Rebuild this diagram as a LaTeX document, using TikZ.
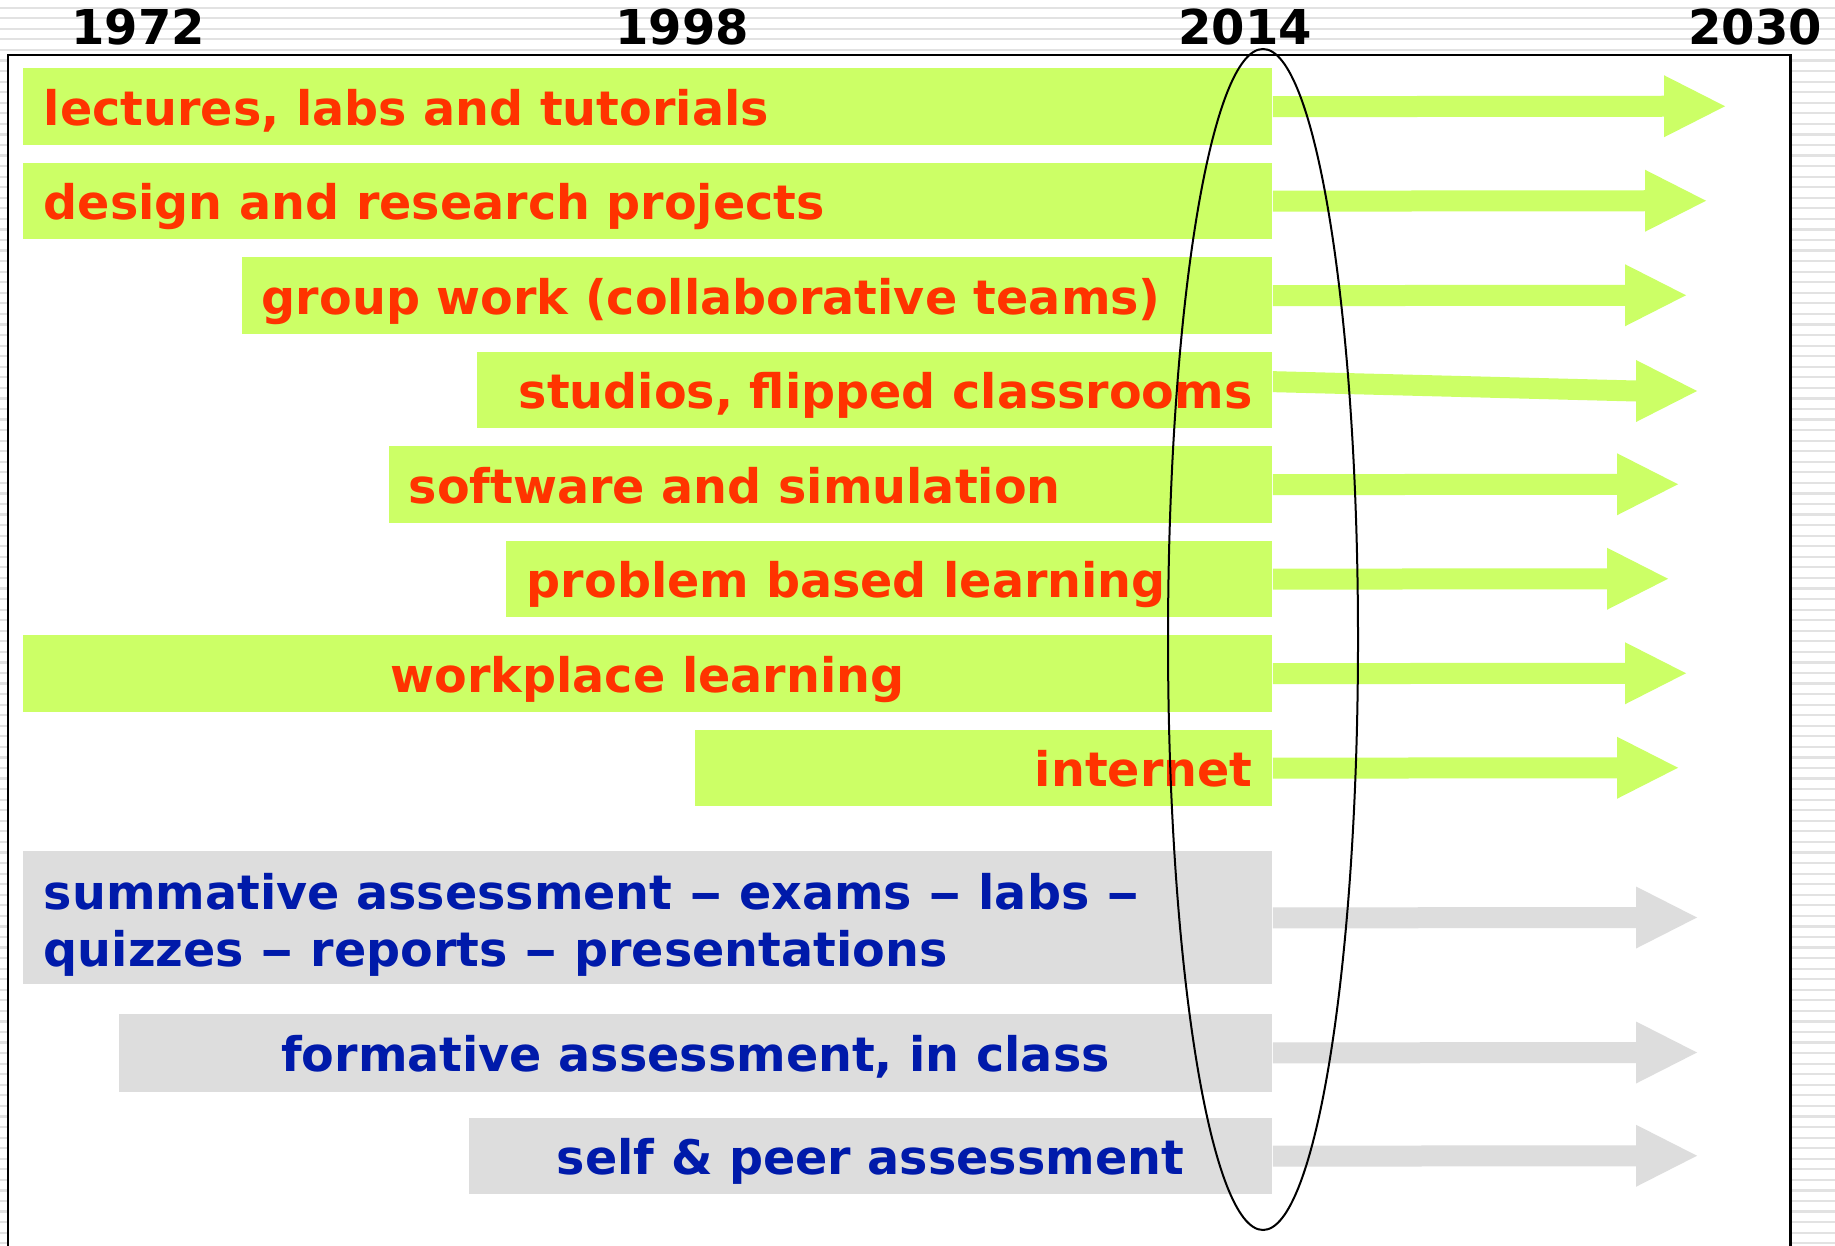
\documentclass[tikz,border=0pt]{standalone}
\usepackage{graphicx}
\usepackage{fontspec}
\setmainfont{DejaVu Sans}
\usetikzlibrary{calc}
\definecolor{barg}{RGB}{204,255,102}
\definecolor{barx}{RGB}{221,221,221}
\definecolor{txr}{RGB}{255,51,0}
\definecolor{txb}{RGB}{0,26,170}
\definecolor{stripe}{RGB}{226,226,226}
\newcommand\wdash{\scalebox{1.4}[1]{–}}
\newcommand\fatarrow[3]{%
  \fill[#1] ($(#2)+(0,-10.5)$) -- ($(#3)+(-61,-10.5)$) -- ($(#3)+(-61,-31)$) -- (#3)
     -- ($(#3)+(-61,31)$) -- ($(#3)+(-61,10.5)$) -- ($(#2)+(0,10.5)$) -- cycle;}
\begin{document}
\begin{tikzpicture}[x=0.5pt,y=-0.5pt,
  gbar/.style={fill=barg, draw=none, inner sep=0pt, anchor=north west, minimum height=38.25pt},
  xbar/.style={fill=barx, draw=none, inner sep=0pt, anchor=north west, minimum height=38.25pt},
  rtxt/.style={inner sep=0pt, text=txr, font=\bfseries\fontsize{23.8}{28.5}\selectfont},
  btxt/.style={inner sep=0pt, text=txb, font=\bfseries\fontsize{23.8}{28.5}\selectfont},
  year/.style={inner sep=0pt, anchor=base, text=black, font=\bfseries\fontsize{24}{28}\selectfont},
  frame/.style={draw=black, line width=1.15pt, fill=white},
  ring/.style={draw=black, line width=1pt}]
\useasboundingbox (0,0) rectangle (1835,1246);
\fill[white] (0,0) rectangle (1835,1246);
\foreach \i in {0,...,117} \draw[stripe, line width=1.1pt] (0,{7.7+10.56*\i}) -- (1835,{7.7+10.56*\i});
\draw[frame] (8,55) rectangle (1790.5,1262);
% years
\node[year] (y1) at (138,44.5) {1972};
\node[year] (y2) at (682,44.5) {1998};
\node[year] (y3) at (1245,44.5) {2014};
\node[year] (y4) at (1755,44.5) {2030};
% bars
\node[gbar, minimum width=624.5pt] (b1) at (23,68) {};
\node[gbar, minimum width=624.5pt] (b2) at (23,162.5) {};
\node[gbar, minimum width=515pt] (b3) at (242,257) {};
\node[gbar, minimum width=397.5pt] (b4) at (477,351.5) {};
\node[gbar, minimum width=441.5pt] (b5) at (389,446) {};
\node[gbar, minimum width=383pt] (b6) at (506,540.5) {};
\node[gbar, minimum width=624.5pt] (b7) at (23,635) {};
\node[gbar, minimum width=288.5pt] (b8) at (695,729.5) {};
\node[xbar, minimum width=624.5pt, minimum height=66.5pt] (b9) at (23,851) {};
\node[xbar, minimum width=576.5pt, minimum height=39pt] (b10) at (119,1013.5) {};
\node[xbar, minimum width=401.5pt] (b11) at (469,1117.5) {};
% texts
\node[rtxt, anchor=base west] (l1) at (43.5,125.25) {lectures, labs and tutorials};
\node[rtxt, anchor=base west] (l2) at (43.5,219.75) {design and research projects};
\node[rtxt, anchor=base west] (l3) at (261.5,314.25) {group work (collaborative teams)};
\node[rtxt, anchor=base east] (l4) at (1253,408.75) {studios, flipped classrooms};
\node[rtxt, anchor=base west] (l5) at (408.5,503.25) {software and simulation};
\node[rtxt, anchor=base west] (l6) at (526.5,597.75) {problem based learning};
\node[rtxt, anchor=base] (l7) at (647.5,692.25) {workplace learning};
\node[rtxt, anchor=base east] (l8) at (1253,786.75) {internet};
\node[btxt, anchor=base west, align=left] (l9) at (43.5,966) {summative assessment \wdash{} exams \wdash{} labs \wdash\\quizzes \wdash{} reports \wdash{} presentations};
\node[btxt, anchor=base] (l10) at (695.5,1071.5) {formative assessment, in class};
\node[btxt, anchor=base] (l11) at (870.5,1174.75) {self \& peer assessment};
% arrow tips
\coordinate (t1) at (1725,106.25);
\coordinate (t2) at (1706,200.75);
\coordinate (t3) at (1686,295.25);
\coordinate (t4) at (1697,391);
\coordinate (t5) at (1678,484.25);
\coordinate (t6) at (1668,578.75);
\coordinate (t7) at (1686,673.25);
\coordinate (t8) at (1678,767.75);
\coordinate (t9) at (1697,917.5);
\coordinate (t10) at (1697,1052.5);
\coordinate (t11) at (1697,1155.75);
\coordinate (s4) at ($(b4.east)+(0,-8.5)$);
\fatarrow{barg}{b1.east}{t1}
\fatarrow{barg}{b2.east}{t2}
\fatarrow{barg}{b3.east}{t3}
\fatarrow{barg}{s4}{t4}
\fatarrow{barg}{b5.east}{t5}
\fatarrow{barg}{b6.east}{t6}
\fatarrow{barg}{b7.east}{t7}
\fatarrow{barg}{b8.east}{t8}
\fatarrow{barx}{b9.east}{t9}
\fatarrow{barx}{b10.east}{t10}
\fatarrow{barx}{b11.east}{t11}
% ring round 2014
\draw[ring] (1263,639.5) ellipse [x radius=47.5pt, y radius=295.25pt];
\end{tikzpicture}
\end{document}
